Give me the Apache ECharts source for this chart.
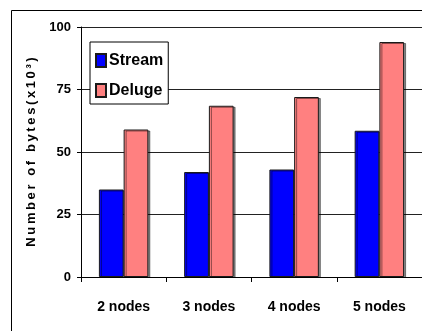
<!DOCTYPE html>
<html>
<head>
<meta charset="utf-8">
<script src="https://cdn.jsdelivr.net/npm/echarts@6/dist/echarts.min.js"></script>
<style>
  html, body { margin: 0; padding: 0; background: #fff; }
  #chart { width: 422px; height: 331px; }
</style>
</head>
<body>
<div id="chart"></div>
<script>
// Bytes transferred per cluster size, in thousands of bytes
const categories = ['2 nodes', '3 nodes', '4 nodes', '5 nodes'];
const streamBytes = [35, 42, 43, 58.5];
const delugeBytes = [59, 68.5, 72, 94];
const yTicks = [0, 25, 50, 75, 100];

const sans = '"Liberation Sans", Arial, sans-serif';
// letter-spaced axis title
const axisTitle = 'Number of bytes(x10\u00b3)'.split('').join('\u2009');

const chart = echarts.init(document.getElementById('chart'), null, { renderer: 'canvas' });

const barStyle = (color) => ({
  color: color,
  borderColor: '#1a1a1a',
  borderWidth: 1,
  shadowColor: 'rgba(0,0,0,0.45)',
  shadowOffsetX: 2,
  shadowOffsetY: 1,
  shadowBlur: 0
});

chart.setOption({
  animation: false,
  backgroundColor: '#fff',
  graphic: [{
    type: 'rect',
    shape: { x: 11.5, y: 10.5, width: 500, height: 400 },
    style: { fill: 'none', stroke: '#000', lineWidth: 1 },
    z: -1
  }],
  grid: { left: 81, right: -13, top: 27, bottom: 54 },
  legend: {
    orient: 'vertical',
    left: 90,
    top: 42,
    padding: [10, 5, 5, 5],
    itemGap: 13,
    itemWidth: 10,
    itemHeight: 13,
    icon: 'rect',
    borderColor: '#000',
    borderWidth: 1,
    backgroundColor: '#fff',
    textStyle: { fontFamily: sans, fontWeight: 'bold', fontSize: 16, color: '#000', lineHeight: 17, padding: [0, 0, 0, -2] },
    data: ['Stream', 'Deluge']
  },
  xAxis: {
    type: 'category',
    data: categories,
    axisLine: { lineStyle: { color: '#000', width: 1 } },
    axisTick: { show: true, length: 5, lineStyle: { color: '#000' } },
    axisLabel: { fontFamily: sans, fontWeight: 'bold', fontSize: 14, color: '#000', margin: 23 }
  },
  yAxis: {
    type: 'value',
    min: yTicks[0],
    max: yTicks[yTicks.length - 1],
    interval: 25,
    name: axisTitle,
    nameLocation: 'middle',
    nameRotate: 90,
    nameGap: 26,
    nameTextStyle: { fontFamily: sans, fontWeight: 'bold', fontSize: 13, color: '#000' },
    axisLine: { show: true, lineStyle: { color: '#000', width: 1 } },
    axisTick: { show: true, length: 4, lineStyle: { color: '#000' } },
    axisLabel: { fontFamily: sans, fontWeight: 'bold', fontSize: 13, color: '#000', margin: 10 },
    splitLine: { show: true, lineStyle: { color: '#222', width: 1 } }
  },
  series: [
    {
      name: 'Stream',
      type: 'bar',
      data: streamBytes,
      barGap: '0%',
      barCategoryGap: '42%',
      itemStyle: barStyle('#0000ff')
    },
    {
      name: 'Deluge',
      type: 'bar',
      data: delugeBytes,
      barGap: '0%',
      barCategoryGap: '42%',
      itemStyle: barStyle('#ff8080')
    }
  ]
});
</script>
</body>
</html>
